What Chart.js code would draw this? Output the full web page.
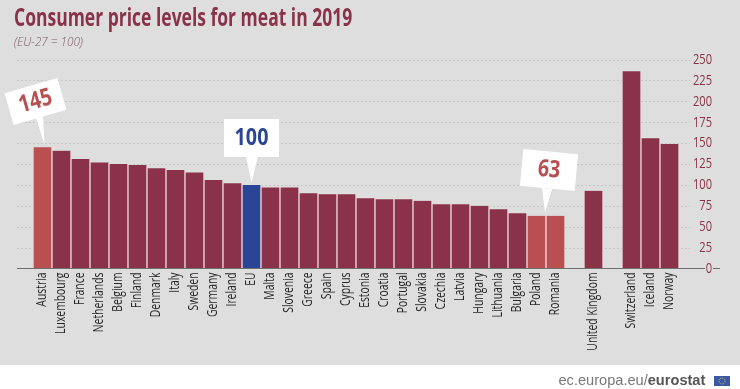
<!DOCTYPE html>
<html>
<head>
<meta charset="utf-8">
<script src="https://cdn.jsdelivr.net/npm/chart.js@4"></script>
<style>
  html, body { margin: 0; padding: 0; background: #fff; }
  #wrap { width: 740px; height: 389px; }
</style>
</head>
<body>
<div id="wrap"><canvas id="meatChart" width="740" height="389"></canvas></div>
<script>
// --- data ---
const countries = ['', 'Austria', 'Luxembourg', 'France', 'Netherlands', 'Belgium', 'Finland', 'Denmark', 'Italy',
  'Sweden', 'Germany', 'Ireland', 'EU', 'Malta', 'Slovenia', 'Greece', 'Spain', 'Cyprus', 'Estonia', 'Croatia',
  'Portugal', 'Slovakia', 'Czechia', 'Latvia', 'Hungary', 'Lithuania', 'Bulgaria', 'Poland', 'Romania', ' ',
  'United Kingdom', '  ', 'Switzerland', 'Iceland', 'Norway'];
const priceLevels = [null, 145, 141, 131, 127, 125, 124, 120, 118, 115, 106, 102, 100, 97, 97, 90, 89, 89, 84, 83,
  83, 81, 77, 77, 75, 71, 66, 63, 63, null, 93, null, 236, 156, 149];
const yTicks = [0, 25, 50, 75, 100, 125, 150, 175, 200, 225, 250];
const highlighted = ['Austria', 'Poland', 'Romania'];

const WINE = '#8a3249', RED = '#b94f50', BLUE = '#2a4596', GREY_BG = '#dedede';
const BODY_FONT = '"Open Sans", sans-serif';
const FOOT_FONT = '"Liberation Sans", sans-serif';

// no condensed font is installed, so text is squeezed sideways, by font size
const squeezeBySize = { 25: 0.70, 24: 0.82, 13: 0.90, 14: 0.74, 15: 0.74 };

function squeezeText(ctx) {
  const fill = ctx.fillText.bind(ctx);
  ctx.fillText = function (text, x, y) {
    const size = parseInt((ctx.font.match(/(\d+)px/) || [])[1]);
    const k = ctx.font.includes('Liberation') ? 1 : (squeezeBySize[size] || 1);
    ctx.save();
    ctx.translate(x, y);
    ctx.scale(k, 1);
    fill(text, 0, 0);
    ctx.restore();
  };
}

function barColor(name) {
  if (name === 'EU') return BLUE;
  return highlighted.includes(name) ? RED : WINE;
}

function xOf(chart, name) { return chart.scales.x.getPixelForValue(countries.indexOf(name)); }
function yOf(chart, name) { return chart.scales.y.getPixelForValue(priceLevels[countries.indexOf(name)]); }

// white speech bubble: box is centred on cx,cy and turned by deg, tail runs to tipX,tipY
function bubble(ctx, label, color, cx, cy, w, h, deg, tailA, tailB, tipX, tipY) {
  ctx.save();
  ctx.fillStyle = '#fff';
  ctx.beginPath();
  ctx.moveTo(tailA[0], tailA[1]);
  ctx.lineTo(tipX, tipY);
  ctx.lineTo(tailB[0], tailB[1]);
  ctx.closePath();
  ctx.fill();
  ctx.translate(cx, cy);
  ctx.rotate(deg * Math.PI / 180);
  ctx.fillRect(-w / 2, -h / 2, w, h);
  ctx.fillStyle = color;
  ctx.font = 'bold 24px ' + BODY_FONT;
  ctx.textAlign = 'center';
  ctx.textBaseline = 'middle';
  ctx.fillText(label, 0, 0);
  ctx.restore();
}

const backdrop = {
  id: 'backdrop',
  beforeInit(chart) { squeezeText(chart.ctx); },
  beforeDraw(chart) {
    const ctx = chart.ctx;
    ctx.save();
    ctx.fillStyle = GREY_BG;
    ctx.fillRect(0, 0, 740, 365);
    // dotted grid lines run past the bars on both sides
    ctx.strokeStyle = '#c6c6c6';
    ctx.lineWidth = 1;
    ctx.setLineDash([2, 2]);
    yTicks.slice(1).forEach(v => {
      const y = Math.round(chart.scales.y.getPixelForValue(v)) + 0.5;
      ctx.beginPath();
      ctx.moveTo(17, y);
      ctx.lineTo(690, y);
      ctx.stroke();
    });
    ctx.restore();
  },
  afterDatasetsDraw(chart) {
    const ctx = chart.ctx;
    const y0 = chart.scales.y.getPixelForValue(0);
    ctx.save();
    ctx.strokeStyle = '#6f6f6f';
    ctx.lineWidth = 1;
    ctx.beginPath();
    ctx.moveTo(17, y0);
    ctx.lineTo(705, y0);
    ctx.moveTo(713, y0);
    ctx.lineTo(720, y0);
    ctx.stroke();
    ctx.restore();

    const ax = xOf(chart, 'Austria'), ay = yOf(chart, 'Austria');
    bubble(ctx, '145', RED, 35.5, 101.5, 55, 33, -16, [36, 118], [43, 116], ax + 2, ay - 3);
    const ex = xOf(chart, 'EU'), ey = yOf(chart, 'EU');
    bubble(ctx, '100', BLUE, 251.5, 138, 55, 38, 0, [246, 156], [258, 156], ex, ey - 2);
    const px = (xOf(chart, 'Poland') + xOf(chart, 'Romania')) / 2, py = yOf(chart, 'Poland');
    bubble(ctx, '63', RED, 549, 170, 55, 37, 5.5, [542, 188], [552, 189], px - 1, py - 3);

    // footer
    ctx.save();
    ctx.textBaseline = 'alphabetic';
    ctx.textAlign = 'left';
    ctx.fillStyle = '#777';
    ctx.font = '14.6px ' + FOOT_FONT;
    const site = 'ec.europa.eu/';
    ctx.fillText(site, 558.5, 385);
    const w = ctx.measureText(site).width;
    ctx.fillStyle = '#555';
    ctx.font = 'bold 14.6px ' + FOOT_FONT;
    ctx.fillText('eurostat', 558.5 + w, 385);
    ctx.fillStyle = '#3b5aa6';
    ctx.fillRect(714, 376, 16, 10);
    ctx.strokeStyle = '#d9c65a';
    ctx.setLineDash([1, 1]);
    ctx.beginPath();
    ctx.arc(722, 381, 3, 0, Math.PI * 2);
    ctx.stroke();
    ctx.restore();
  }
};

new Chart(document.getElementById('meatChart'), {
  type: 'bar',
  plugins: [backdrop],
  data: {
    labels: countries,
    datasets: [{
      data: priceLevels,
      backgroundColor: countries.map(barColor),
      borderColor: '#ecd9dc',
      borderWidth: { left: 1, right: 1, top: 0, bottom: 0 },
      borderSkipped: false,
      barThickness: 19
    }]
  },
  options: {
    responsive: false,
    animation: false,
    layout: { padding: { left: 14, right: 28, top: 0, bottom: 0 } },
    plugins: {
      legend: { display: false },
      tooltip: { enabled: false },
      title: {
        display: true,
        text: 'Consumer price levels for meat in 2019',
        align: 'start',
        color: '#8a3249',
        font: { family: BODY_FONT, size: 25, weight: 'bold' },
        padding: { top: 3.5, bottom: 0 }
      },
      subtitle: {
        display: true,
        text: '(EU-27 = 100)',
        align: 'start',
        color: '#7f5a68',
        font: { family: BODY_FONT, size: 13, style: 'italic', weight: '300' },
        padding: { top: 0.5, bottom: 10 }
      }
    },
    scales: {
      x: {
        grid: { display: false, drawTicks: false },
        border: { display: false },
        ticks: {
          autoSkip: false,
          minRotation: 90,
          maxRotation: 90,
          padding: 4,
          color: '#262626',
          font: { family: BODY_FONT, size: 14 }
        },
        afterFit(scale) { scale.height = 120.5; }
      },
      y: {
        position: 'right',
        min: 0,
        max: 250,
        grid: { display: false, drawTicks: false },
        border: { display: false },
        afterBuildTicks(scale) { scale.ticks = yTicks.map(v => ({ value: v })); },
        ticks: {
          autoSkip: false,
          padding: 6,
          crossAlign: 'far',
          color: '#8a3249',
          font: { family: BODY_FONT, size: 15 }
        },
        afterFit(scale) { scale.width = 33; }
      }
    }
  }
});
</script>
</body>
</html>
